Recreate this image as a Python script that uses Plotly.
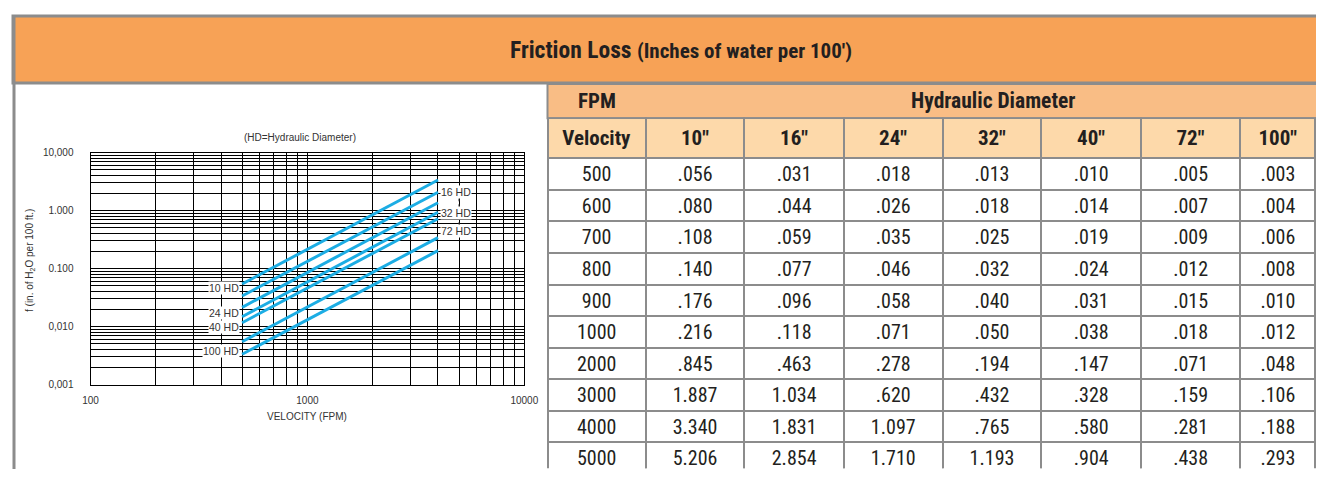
import math
import plotly.graph_objects as go

# page is 1324x477; the browser's default 8px body margin surrounds the figure
PAGE_W, PAGE_H = 1324, 477
OFF = 8
W, H = PAGE_W - 2 * OFF, PAGE_H - 2 * OFF

# ---------------- data ----------------
velocity = ["500", "600", "700", "800", "900", "1000", "2000", "3000", "4000", "5000"]
diam_labels = ['10"', '16"', '24"', '32"', '40"', '72"', '100"']
hd_10 = [".056", ".080", ".108", ".140", ".176", ".216", ".845", "1.887", "3.340", "5.206"]
hd_16 = [".031", ".044", ".059", ".077", ".096", ".118", ".463", "1.034", "1.831", "2.854"]
hd_24 = [".018", ".026", ".035", ".046", ".058", ".071", ".278", ".620", "1.097", "1.710"]
hd_32 = [".013", ".018", ".025", ".032", ".040", ".050", ".194", ".432", ".765", "1.193"]
hd_40 = [".010", ".014", ".019", ".024", ".031", ".038", ".147", ".328", ".580", ".904"]
hd_72 = [".005", ".007", ".009", ".012", ".015", ".018", ".071", ".159", ".281", ".438"]
hd_100 = [".003", ".004", ".006", ".008", ".010", ".012", ".048", ".106", ".188", ".293"]

# chart lines: velocity 500 -> 4000 FPM
chart_x = [500, 4000]
chart_names = ["10 HD", "16 HD", "24 HD", "32 HD", "40 HD", "72 HD", "100 HD"]
chart_start = [0.0541, 0.0336, 0.0214, 0.01475, 0.01163, 0.00547, 0.00332]
chart_end = [3.357, 2.061, 1.363, 0.931, 0.722, 0.340, 0.203]

y_tickvals = [0.001, 0.01, 0.1, 1, 10]
y_ticktext = ["0,001", "0,010", "0.100", "1.000", "10,000"]
x_tickvals = [100, 1000, 10000]
x_ticktext = ["100", "1000", "10000"]

# label anchors
left_labels = [("10 HD", 0.0456), ("24 HD", 0.0173), ("40 HD", 0.00993), ("100 HD", 0.00379)]
right_labels = [("16 HD", 2.06), ("32 HD", 0.897), ("72 HD", 0.444)]
connector_x = [5000, 5000]
connector_y = [2.06, 0.444]

# ---------------- helpers (page pixel -> paper fraction) ----------------
def px(x):
    return (x - OFF) / W

def py(y):
    return 1 - (y - OFF) / H

NARROW = "Roboto Condensed, Liberation Sans Narrow, Arial Narrow, sans-serif"
SANS = "Liberation Sans, Arial, sans-serif"
TXT = "#231F20"
GREY = "#8C8C8C"
LINE_BLUE = "#1CADE4"

fig = go.Figure()

for name, y0, y1 in zip(chart_names, chart_start, chart_end):
    fig.add_trace(go.Scatter(x=chart_x, y=[y0, y1], mode="lines", name=name,
                             line=dict(color=LINE_BLUE, width=3), showlegend=False,
                             hoverinfo="skip"))

fig.add_trace(go.Scatter(x=connector_x, y=connector_y, mode="lines", showlegend=False,
                         hoverinfo="skip", line=dict(color="#333333", width=1, dash="dot")))

table_top = 118.3
header_h = 34
row_h = (PAGE_H - OFF - table_top - header_h - 1.0) / len(velocity)

cols = [velocity, hd_10, hd_16, hd_24, hd_32, hd_40, hd_72, hd_100]
fig.add_trace(go.Table(
    domain=dict(x=[px(547.5), 1], y=[0, py(table_top)]),
    columnwidth=[98.4, 98.6, 99.7, 98.7, 99, 99.6, 99.4, 75.3],
    header=dict(values=["<b>Velocity</b>"] + ["<b>%s</b>" % d for d in diam_labels],
                fill_color="#FDD9AA", line=dict(color=GREY, width=2),
                font=dict(family=NARROW, size=21, color=TXT), align="center", height=header_h),
    cells=dict(values=cols, fill_color="white", line=dict(color=GREY, width=2),
               font=dict(family=NARROW, size=20, color=TXT), align="center", height=row_h),
))

axis_common = dict(type="log", showline=True, linecolor="black", linewidth=1, mirror=True,
                   showgrid=True, gridcolor="black", gridwidth=1, ticks="", zeroline=False,
                   automargin=False,
                   tickfont=dict(family=SANS, size=10, color="#333333"))

fig.update_layout(
    width=W, height=H, margin=dict(l=0, r=0, t=0, b=0, autoexpand=False), autosize=False,
    paper_bgcolor="white", plot_bgcolor="white",
    xaxis=dict(domain=[px(90.5), px(524.3)], range=[2, 4], tickvals=x_tickvals,
               ticktext=x_ticktext, ticklabelstandoff=6,
               minor=dict(showgrid=True, gridcolor="black", gridwidth=1, dtick="D1"),
               **axis_common),
    yaxis=dict(domain=[py(384.5), py(152.5)], range=[-3, 1], tickvals=y_tickvals,
               ticktext=y_ticktext, ticklabelstandoff=14,
               minor=dict(showgrid=True, gridcolor="black", gridwidth=1, dtick="D1"),
               **axis_common),
)

shapes = []
# title band
shapes.append(dict(type="rect", xref="paper", yref="paper", x0=px(13), x1=1.01, y0=py(83), y1=py(16),
                   fillcolor="#F7A256", line=dict(color=GREY, width=3), layer="below"))
# left frame line
shapes.append(dict(type="line", xref="paper", yref="paper", x0=px(14), x1=px(14), y0=-0.01, y1=py(16),
                   line=dict(color=GREY, width=3)))
# FPM row
shapes.append(dict(type="rect", xref="paper", yref="paper", x0=px(547.5), x1=1.01, y0=py(118.3), y1=py(84),
                   fillcolor="#F9BD85", line=dict(color=GREY, width=2), layer="below"))
fig.update_layout(shapes=shapes)

C = dict(xanchor="center", yanchor="middle", showarrow=False, xref="paper", yref="paper")
ann = []
ann.append(dict(x=px(681), y=py(50),
                text="<b>Friction Loss</b> <b><span style='font-size:21px'>(Inches of water per 100')</span></b>",
                font=dict(family=NARROW, size=23.5, color=TXT), **C))
ann.append(dict(x=px(597), y=py(101), text="<b>FPM</b>",
                font=dict(family=NARROW, size=21, color=TXT), **C))
ann.append(dict(x=px(993), y=py(101), text="<b>Hydraulic Diameter</b>",
                font=dict(family=NARROW, size=21.5, color=TXT), **C))
ann.append(dict(x=px(300), y=py(137), text="(HD=Hydraulic Diameter)",
                font=dict(family=SANS, size=10, color="#333333"), **C))
ann.append(dict(x=px(307), y=py(416), text="VELOCITY (FPM)",
                font=dict(family=SANS, size=10, color="#333333"), **C))
ann.append(dict(x=px(30), y=py(260), textangle=-90, text="f (in. of H<sub>2</sub>O per 100 ft.)",
                font=dict(family=SANS, size=10, color="#333333"), **C))
for t, yv in left_labels:
    ann.append(dict(xref="x", yref="y", x=math.log10(chart_x[0]), y=math.log10(yv), showarrow=False,
                    xanchor="right", yanchor="middle", xshift=-2, text=t, bgcolor="white", borderpad=0,
                    font=dict(family=SANS, size=10.5, color="#333333")))
for t, yv in right_labels:
    ann.append(dict(xref="x", yref="y", x=math.log10(chart_x[1]), y=math.log10(yv), showarrow=False,
                    xanchor="left", yanchor="middle", xshift=2, text=t, bgcolor="white", borderpad=0,
                    font=dict(family=SANS, size=10.5, color="#333333")))
fig.update_layout(annotations=ann)

fig.write_html("out.html", config={"displayModeBar": False, "responsive": False})
